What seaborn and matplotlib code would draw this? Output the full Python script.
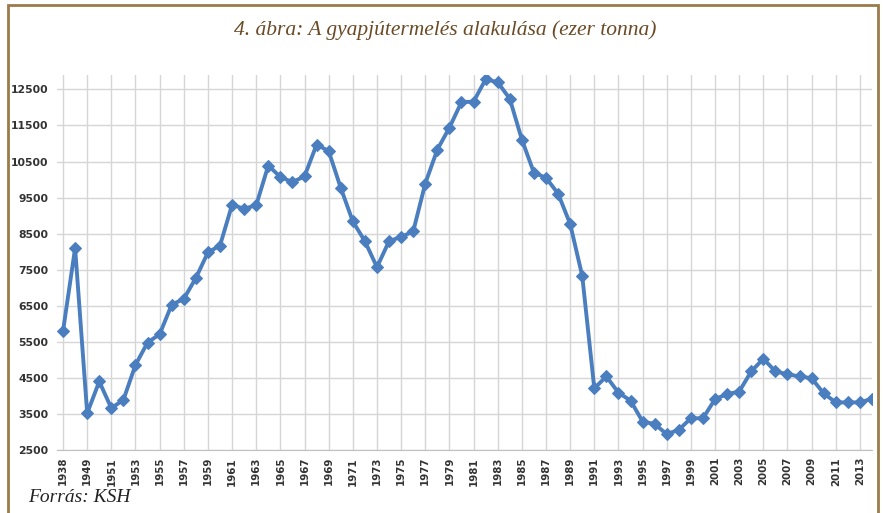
import matplotlib
matplotlib.use("Agg")
import matplotlib.pyplot as plt
import seaborn as sns
import pandas as pd
from matplotlib.patches import Rectangle

# Data
years = [1938] + list(range(1948, 2015))
wool = [5800, 8100, 3520, 4400, 3660, 3890, 4860, 5480, 5710, 6530,
        6690, 7270, 7980, 8170, 9300, 9190, 9290, 10390, 10070, 9930,
        10090, 10970, 10790, 9770, 8840, 8290, 7570, 8290, 8410, 8560,
        9890, 10830, 11440, 12150, 12160, 12780, 12700, 12240, 11110, 10190,
        10050, 9610, 8770, 7330, 4210, 4540, 4090, 3870, 3290, 3220,
        2940, 3060, 3380, 3380, 3910, 4050, 4120, 4680, 5030, 4680,
        4600, 4540, 4490, 4070, 3820, 3820, 3820, 3920]
yticks = list(range(2500, 13000, 1000))

df = pd.DataFrame({"pos": range(len(years)), "year": years, "wool": wool})

sns.set_style("white")
fig = plt.figure(figsize=(8.83, 5.13), dpi=100)
ax = fig.add_axes([57 / 883, 63 / 513, 815 / 883, 375 / 513])

sns.lineplot(data=df, x="pos", y="wool", ax=ax, color="#4a7ebf", linewidth=2.8,
             marker="D", markersize=6.5, markeredgecolor="#4a7ebf", zorder=3)

ax.set_xlim(-0.5, len(years) - 1)
ax.set_ylim(2500, 12900)
ax.set_yticks(yticks)
ax.set_yticklabels([str(t) for t in yticks], fontsize=7.8, fontweight="bold", color="#333333")
ax.set_xticks(df["pos"][::2])
ax.set_xticklabels([str(y) for y in years[::2]], rotation=90, fontsize=7.4,
                   fontweight="bold", color="#333333")
ax.grid(True, color="#d6d6d6", linewidth=1)
ax.set_xlabel("")
ax.set_ylabel("")
for s in ["top", "right", "left"]:
    ax.spines[s].set_visible(False)
ax.spines["bottom"].set_color("#bfbfbf")
ax.tick_params(axis="x", length=3, color="#bfbfbf", pad=2)
ax.tick_params(axis="y", length=0, pad=6)

# brown frame around the figure
fig.patches.append(Rectangle((8 / 883, -0.05), 870 / 883, 1.04, transform=fig.transFigure,
                             fill=False, edgecolor="#9c7a4a", linewidth=2))

fig.text(445 / 883, 1 - 30 / 513, "4. ábra: A gyapjútermelés alakulása (ezer tonna)",
         ha="center", va="center", fontsize=15.5, style="italic",
         family="Liberation Serif", color="#6b4a26")
fig.text(28 / 883, 1 - 498 / 513, "Forrás: KSH", ha="left", va="center",
         fontsize=14, style="italic", family="Liberation Serif", color="#222222")

fig.savefig("out.png", dpi=100)
